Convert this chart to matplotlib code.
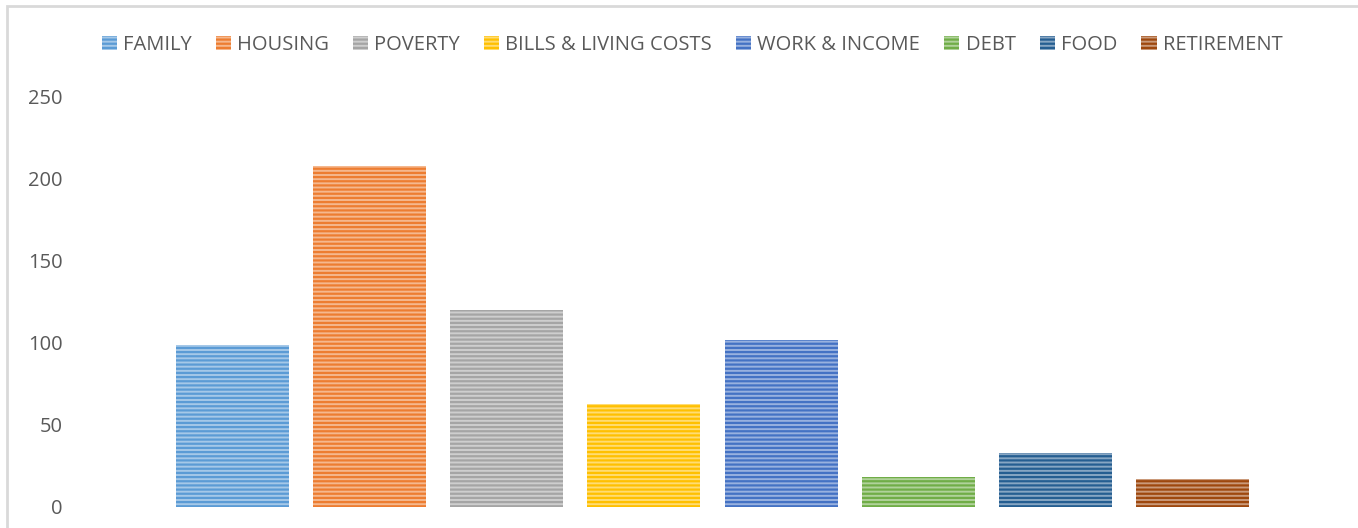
import matplotlib.pyplot as plt
from matplotlib.colors import to_rgb
from matplotlib.patches import Rectangle

categories = ["FAMILY", "HOUSING", "POVERTY", "BILLS & LIVING COSTS",
              "WORK & INCOME", "DEBT", "FOOD", "RETIREMENT"]
values = [99, 208, 120, 63, 102, 18, 33, 17]
colors = ["#5B9BD5", "#ED7D31", "#A5A5A5", "#FFC000",
          "#4472C4", "#70AD47", "#255E91", "#9E480E"]
yticks = [0, 50, 100, 150, 200, 250]


def lighten(c, f):
    r, g, b = to_rgb(c)
    return (r + (1 - r) * f, g + (1 - g) * f, b + (1 - b) * f)


plt.rcParams["font.family"] = ["Open Sans", "DejaVu Sans"]
plt.rcParams["hatch.linewidth"] = 1.6

fig = plt.figure(figsize=(13.58, 5.28), dpi=100)
ax = fig.add_axes([75 / 1358, 21 / 528, 1275 / 1358, 410 / 528])

# chart border (only top and left visible in the crop)
fig.patches.append(Rectangle((7 / 1358, -0.1), 1.2, 1 - 6 / 528 + 0.1,
                             transform=fig.transFigure, fill=False,
                             edgecolor="#D9D9D9", linewidth=2))

for i, (cat, v, c) in enumerate(zip(categories, values, colors)):
    ax.bar(i, v, width=113 / 137, color=lighten(c, 0.45), edgecolor=c,
           hatch="----", linewidth=0, label=cat)

ax.set_xlim(3.5 - 4.653, 3.5 + 4.653)
ax.set_ylim(0, 250)
ax.set_yticks(yticks)
ax.set_xticks([])
ax.tick_params(axis="y", length=0, pad=9, labelsize=14.5, labelcolor="#595959")
for s in ax.spines.values():
    s.set_visible(False)

fig.legend(loc="center", bbox_to_anchor=(692 / 1358, 1 - 45 / 528), ncol=8,
           frameon=False, fontsize=14.5, labelcolor="#595959",
           handlelength=0.75, handleheight=0.75, handletextpad=0.3,
           columnspacing=1.2)

fig.savefig("out.png", dpi=100)
